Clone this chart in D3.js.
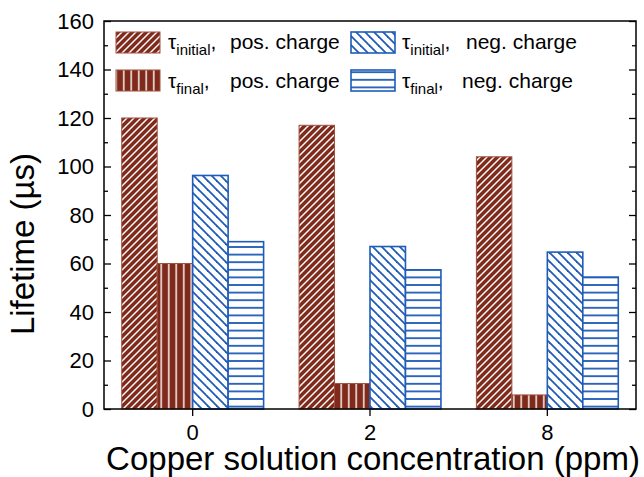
<!DOCTYPE html>
<html>
<head>
<meta charset="utf-8">
<script src="https://cdn.jsdelivr.net/npm/d3@7"></script>
<style>
  html, body { margin: 0; padding: 0; background: #fff; }
  svg { display: block; font-family: "Liberation Sans", Arial, sans-serif; }
</style>
</head>
<body>
<svg id="chart" width="644" height="477"></svg>
<script>
// ---- data ----
const categories = ["0", "2", "8"];
const seriesNames = ["posInitial", "posFinal", "negInitial", "negFinal"];
const posInitial = [120, 117, 104];
const posFinal = [60, 10.5, 5.8];
const negInitial = [96.3, 67, 64.7];
const negFinal = [69, 57.4, 54.4];
const yMajorTicks = [0, 20, 40, 60, 80, 100, 120, 140, 160];
const yMinorTicks = [10, 30, 50, 70, 90, 110, 130, 150];
const legendLabels = [
  { sym: "τ", sub: "initial", rest: "pos. charge" },
  { sym: "τ", sub: "final", rest: "pos. charge" },
  { sym: "τ", sub: "initial", rest: "neg. charge" },
  { sym: "τ", sub: "final", rest: "neg. charge" }
];
const xTitle = "Copper solution concentration (ppm)";
const yTitle = "Lifetime (µs)";

const seriesValues = { posInitial, posFinal, negInitial, negFinal };

// ---- layout ----
const mLeft = 104, mRight = 636, mTop = 21, mBottom = 409;
const RED = "#7f2a1a", REDEDGE = "#a0503f", BLUE = "#1f5cb8";

const svg = d3.select("#chart");
const defs = svg.append("defs");

function pattern(id, size, bg, lines, color, width) {
  const p = defs.append("pattern").attr("id", id)
    .attr("patternUnits", "userSpaceOnUse")
    .attr("width", size).attr("height", size);
  p.append("rect").attr("width", size).attr("height", size).attr("fill", bg);
  lines.forEach(l => p.append("line")
    .attr("x1", l[0]).attr("y1", l[1]).attr("x2", l[2]).attr("y2", l[3])
    .attr("stroke", color).attr("stroke-width", width));
}
const d = 7;
pattern("pPosInit", d, RED, [[0, d, d, 0], [-1, 1, 1, -1], [d - 1, d + 1, d + 1, d - 1]], "#fff", 1.4);
const v = 7.5;
pattern("pPosFinal", v, RED, [[v / 2, 0, v / 2, v]], "#fff", 1.4);
const b = 9;
pattern("pNegInit", b, "#fff", [[0, 0, b, b], [-1, b - 1, 1, b + 1], [b - 1, -1, b + 1, 1]], BLUE, 1.8);
const h = 7.6;
pattern("pNegFinal", h, "#fff", [[0, h / 2, h, h / 2]], BLUE, 1.8);

const fills = { posInitial: "url(#pPosInit)", posFinal: "url(#pPosFinal)", negInitial: "url(#pNegInit)", negFinal: "url(#pNegFinal)" };
const strokes = { posInitial: REDEDGE, posFinal: REDEDGE, negInitial: BLUE, negFinal: BLUE };
const strokeW = { posInitial: 1, posFinal: 1, negInitial: 1.6, negFinal: 1.6 };

const x = d3.scaleBand().domain(categories).range([mLeft, mRight]).padding(0);
const xs = d3.scaleBand().domain(seriesNames).range([0, x.bandwidth()]).paddingOuter(0.5).paddingInner(0);
const y = d3.scaleLinear().domain([0, 160]).range([mBottom, mTop]);

// bars
const g = svg.append("g");
categories.forEach((c, i) => {
  seriesNames.forEach(s => {
    const val = seriesValues[s][i];
    g.append("rect")
      .attr("x", x(c) + xs(s))
      .attr("y", y(val))
      .attr("width", xs.bandwidth())
      .attr("height", y(0) - y(val))
      .attr("fill", fills[s])
      .attr("stroke", strokes[s])
      .attr("stroke-width", strokeW[s]);
  });
});

// axes
const tickFont = 22;
function styleAxis(sel) {
  sel.select(".domain").remove();
  sel.selectAll("line").attr("stroke", "#000").attr("stroke-width", 1.3);
  sel.selectAll("text").attr("font-size", tickFont).attr("fill", "#000")
    .attr("font-family", "'Liberation Sans', Arial, sans-serif");
}
svg.append("g").attr("transform", `translate(${mLeft},0)`)
  .call(d3.axisLeft(y).tickValues(yMajorTicks).tickSize(-7).tickPadding(10).tickFormat(d3.format("d")))
  .call(styleAxis);
svg.append("g").attr("transform", `translate(${mLeft},0)`)
  .call(d3.axisLeft(y).tickValues(yMinorTicks).tickSize(-4).tickFormat(""))
  .call(styleAxis);
svg.append("g").attr("transform", `translate(${mRight},0)`)
  .call(d3.axisRight(y).tickValues(yMajorTicks).tickSize(-7).tickFormat(""))
  .call(styleAxis);
svg.append("g").attr("transform", `translate(${mRight},0)`)
  .call(d3.axisRight(y).tickValues(yMinorTicks).tickSize(-4).tickFormat(""))
  .call(styleAxis);
svg.append("g").attr("transform", `translate(0,${mBottom})`)
  .call(d3.axisBottom(x).tickSize(7).tickPadding(8))
  .call(styleAxis);

// frame
svg.append("rect").attr("x", mLeft).attr("y", mTop)
  .attr("width", mRight - mLeft).attr("height", mBottom - mTop)
  .attr("fill", "none").attr("stroke", "#000").attr("stroke-width", 1.5);

// titles
svg.append("text").attr("x", 373).attr("y", 470).attr("text-anchor", "middle")
  .attr("font-size", 33).text(xTitle);
svg.append("text").attr("transform", "translate(34,244) rotate(-90)")
  .attr("text-anchor", "middle").attr("font-size", 33).text(yTitle);

// legend
const legendPos = [
  { sx: 116, sy: 32, tx: 168, rx: 230, by: 49 },
  { sx: 116, sy: 70, tx: 168, rx: 230, by: 88 },
  { sx: 351, sy: 32, tx: 402, rx: 466, by: 49 },
  { sx: 351, sy: 70, tx: 402, rx: 462, by: 88 }
];
seriesNames.forEach((s, i) => {
  const p = legendPos[i], L = legendLabels[i];
  svg.append("rect").attr("x", p.sx).attr("y", p.sy).attr("width", 44).attr("height", 21)
    .attr("fill", fills[s]).attr("stroke", strokes[s]).attr("stroke-width", strokeW[s]);
  const t = svg.append("text").attr("x", p.tx).attr("y", p.by).attr("font-size", 21);
  t.append("tspan").text(L.sym);
  t.append("tspan").attr("font-size", 15).attr("dy", 6).text(L.sub);
  t.append("tspan").attr("dy", -6).text(",");
  svg.append("text").attr("x", p.rx).attr("y", p.by).attr("font-size", 21).text(L.rest);
});
</script>
</body>
</html>
